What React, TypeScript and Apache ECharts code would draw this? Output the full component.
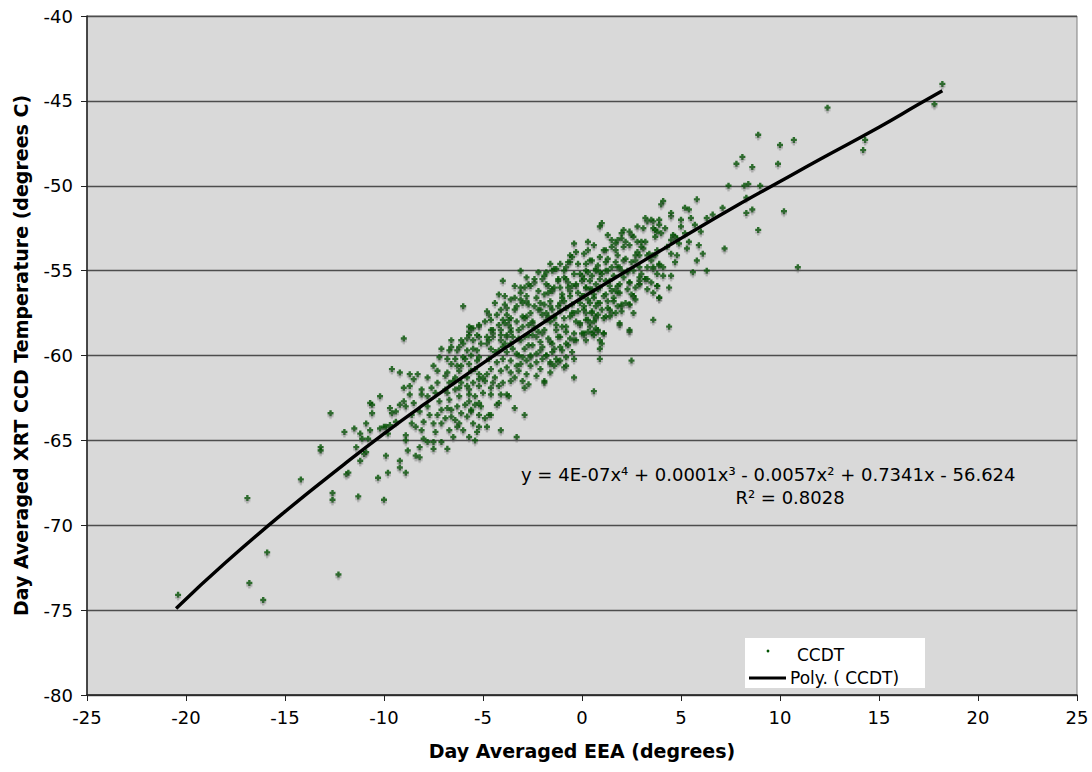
import React, { useEffect, useRef } from "react";
import * as echarts from "echarts";

// Tick settings
const xMin = -25, xMax = 25, xStep = 5;
const yMin = -80, yMax = -40, yStep = 5;

// Sparse points, left / low end
const sparseLeft: number[][] = [
  [-20.4,-74.1],[-16.9,-68.4],[-16.8,-73.4],[-16.1,-74.4],[-15.9,-71.6],[-14.2,-67.3],[-13.2,-65.4],[-13.2,-65.6],
  [-12.7,-63.4],[-12.6,-68.1],[-12.6,-68.5],[-12.3,-72.9],[-12.0,-64.5],[-11.9,-67.0],[-11.8,-66.9],[-11.5,-64.3],
  [-11.4,-65.4],[-11.3,-68.3],[-11.2,-64.6],[-11.2,-66.2],[-11.1,-64.9],[-11.0,-65.8],[-10.9,-65.7],[-10.9,-64.0],
  [-10.8,-64.9],[-10.7,-64.4],[-10.7,-62.8],[-10.6,-62.9],[-10.6,-63.4],[-10.3,-67.2],[-10.2,-62.4],[-10.2,-64.3],
  [-10.0,-68.5],[-10.0,-64.2],[-9.9,-65.9],[-9.9,-64.2],[-9.8,-64.6],[-9.8,-66.9],[-9.7,-63.1],[-9.7,-64.1],
  [-9.6,-63.4],[-9.6,-60.8],[-9.4,-63.9],[-9.4,-63.3],[-9.2,-62.9],[-9.2,-66.6],[-9.2,-66.2],[-9.2,-61.0],
  [-9.0,-59.0],[-9.0,-62.7],[-9.0,-61.9],[-8.9,-64.7],[-8.9,-65.0],[-8.9,-66.9],[-8.7,-62.3],[-8.7,-61.1],
  [-8.7,-61.8],[-8.5,-61.4],[-8.3,-61.1],[-8.9,-63.0],[-8.6,-63.5],[-8.5,-62.8],[-8.4,-64.2],[-8.2,-63.3],
  [-8.1,-62.0],[-8.0,-64.9],[-8.8,-65.6],[-8.4,-65.9],[-8.2,-66.0],[-8.6,-64.0],
];

// Lower-left part of the cloud
const cloudWest: number[][] = [
  [-7.8,-61.3],[-7.5,-60.6],[-8.1,-62.3],[-7.8,-62.4],[-7.6,-61.9],[-7.8,-63.0],[-8.0,-63.9],[-8.1,-64.4],
  [-7.8,-65.1],[-7.5,-65.1],[-7.4,-64.5],[-7.5,-64.0],[-7.1,-64.0],[-7.3,-63.5],[-7.1,-63.2],[-7.2,-60.1],
  [-7.1,-59.6],[-7.3,-60.9],[-7.3,-61.6],[-7.4,-62.2],[-7.2,-62.7],[-7.7,-63.5],[-8.2,-65.4],[-7.5,-65.5],
  [-6.8,-60.2],[-6.6,-59.1],[-6.6,-59.5],[-6.6,-60.5],[-6.3,-60.6],[-6.8,-63.1],[-6.8,-65.5],[-6.5,-64.8],
  [-7.1,-65.1],[-6.9,-61.2],[-6.7,-61.6],[-6.4,-62.0],[-6.2,-62.4],[-6.8,-62.2],[-6.3,-63.0],[-6.1,-63.4],
  [-6.6,-63.6],[-6.2,-64.0],[-6.0,-64.4],[-6.4,-61.3],[-6.1,-61.6],[-6.2,-60.9],[-6.0,-60.1],[-6.0,-57.1],
  [-6.7,-59.7],[-6.3,-59.7],[-6.2,-59.5],[-6.1,-59.1],
  [-6.0,-59.3],[-5.7,-58.6],[-5.5,-58.4],[-5.2,-58.3],[-5.7,-58.3],[-5.8,-59.0],[-5.5,-59.1],[-5.2,-58.9],
  [-5.8,-59.7],[-5.6,-60.0],[-5.3,-59.7],[-5.2,-60.1],[-5.7,-60.5],[-5.4,-60.8],[-5.2,-61.1],[-5.8,-61.3],
  [-5.5,-61.6],[-5.2,-61.8],[-5.7,-62.0],[-5.4,-62.4],[-5.7,-62.7],[-5.2,-62.8],[-5.6,-63.2],[-5.2,-63.5],
  [-5.8,-63.6],[-5.5,-64.0],[-5.2,-64.2],[-5.7,-64.8],[-5.4,-65.0],
  [-5.9,-60.2],[-5.8,-61.8],[-5.7,-62.3],[-5.6,-60.9],[-5.5,-59.6],[-5.4,-62.9],[-5.3,-60.3],[-5.2,-61.4],
  [-5.1,-59.3],[-5.0,-62.2],[-5.9,-62.9],[-5.6,-63.3],[-5.3,-64.5],[-5.1,-63.0],
  [-6.9,-62.0],[-6.8,-61.0],[-6.7,-62.6],[-6.6,-63.2],[-6.5,-61.5],[-6.4,-60.2],[-6.3,-64.2],[-6.2,-61.9],
  [-6.1,-60.6],[-6.9,-63.7],[-6.4,-63.8],[-6.7,-64.4],
];

// Centre of the cloud, upper half
const cloudUpper: number[][] = [
  [-0.4,-53.4],[-0.6,-54.1],[-0.6,-54.5],[-1.1,-54.6],[-0.8,-54.8],[-1.4,-54.9],[-3.1,-55.0],[-2.2,-55.1],
  [-1.8,-55.1],[-4.0,-55.6],[-3.4,-55.9],[-3.1,-56.0],[-2.7,-55.8],[-2.4,-55.7],[-2.0,-55.5],[-1.7,-55.9],
  [-1.5,-56.1],[-1.2,-55.5],[-0.9,-55.4],[-0.7,-55.7],[-0.4,-55.2],[-0.3,-55.9],[-4.2,-56.4],[-3.9,-56.5],
  [-3.6,-56.7],[-3.1,-56.7],[-4.4,-56.9],[-4.7,-57.6],[-4.1,-57.3],[-3.8,-57.2],[-3.3,-57.1],[-2.8,-56.8],
  [-2.3,-56.6],[-1.9,-56.4],[-1.5,-56.2],[-1.0,-56.4],[-0.6,-56.2],[-4.6,-57.9],[-4.0,-57.9],[-3.6,-57.8],
  [-2.8,-57.7],[-2.1,-57.3],[-1.6,-57.1],[-1.1,-56.9],[-5.6,-58.4],[-5.2,-58.2],[-4.6,-58.5],[-4.1,-58.5],
  [-3.6,-58.4],[-3.0,-58.3],[-2.5,-58.1],[-1.8,-57.9],[-1.4,-57.7],[-0.5,-57.5],[-5.7,-58.8],[-5.3,-58.8],
  [-4.5,-58.9],[-3.8,-58.9],[-2.7,-58.8],[-2.0,-58.7],[-1.3,-58.5],[-0.8,-58.3],
  [-4.8,-58.9],[-4.5,-58.7],[-4.1,-59.1],[-3.8,-58.8],[-3.6,-59.3],[-3.2,-59.0],[-2.9,-59.6],[-2.5,-59.4],
  [-2.3,-58.9],[-1.6,-59.2],[-1.4,-59.6],[-1.1,-58.9],[-0.8,-59.3],[-0.5,-59.8],[-0.3,-59.1],[-2.1,-59.7],
  [-1.8,-60.0],[-3.0,-60.1],[-3.3,-59.9],[-3.8,-59.8],[-4.2,-59.7],[-4.6,-59.6],[-4.0,-60.2],[-2.6,-60.1],
  [-1.3,-60.2],[-0.4,-60.2],
];

// Centre of the cloud, lower half
const cloudLower: number[][] = [
  [-5.0,-61.3],[-4.8,-61.1],[-4.6,-61.9],[-4.5,-61.6],[-4.2,-61.8],[-4.0,-61.6],[-3.8,-62.3],[-3.6,-61.5],
  [-3.4,-61.3],[-3.2,-60.9],[-3.1,-60.5],[-2.8,-61.1],[-2.6,-60.6],[-2.3,-60.4],[-2.1,-60.8],[-1.9,-61.5],
  [-1.6,-60.5],[-1.2,-60.4],[-0.9,-60.7],[-0.4,-61.3],[-2.9,-61.9],[-2.7,-61.7],[-3.0,-61.5],[-4.9,-63.7],
  [-4.7,-63.5],[-4.6,-63.5],[-4.3,-62.9],[-4.1,-62.3],[-3.7,-62.4],[-3.4,-63.1],[-2.9,-63.5],[-4.1,-64.4],
  [-3.3,-64.8],[-4.8,-64.2],
  [0.0,-58.7],[0.2,-59.1],[0.5,-58.7],[0.6,-58.6],[0.8,-58.6],[0.9,-59.1],[1.0,-59.3],[0.9,-59.6],
  [0.9,-60.2],[1.1,-58.7],[2.4,-58.6],[2.5,-60.3],[0.6,-62.1],[4.4,-58.3],
  [1.9,-58.2],[3.6,-57.9],[3.9,-56.6],[-1.9,-61.6],[-1.6,-61.0],[-0.8,-60.6],[-1.1,-60.3],[-0.8,-60.1],
  [-1.6,-60.4],[-2.0,-59.5],[-1.5,-59.8],[-1.1,-59.5],[-0.7,-59.4],[-0.4,-59.1],[0.1,-58.8],[0.4,-58.3],
  [0.7,-58.4],[-0.1,-58.2],
];

// Right-hand part of the cloud
const cloudEast: number[][] = [
  [6.3,-55.0],[5.8,-54.4],[6.1,-54.0],[5.3,-53.7],[4.8,-54.1],[4.5,-55.3],[4.1,-55.3],[3.8,-55.9],
  [6.0,-52.7],[6.3,-51.9],[6.6,-51.7],[5.2,-51.3],[5.4,-51.4],[4.0,-51.1],[4.1,-50.9],[5.8,-50.8],
  [5.0,-52.0],[5.0,-52.4],[4.6,-53.0],[4.8,-53.1],[4.5,-54.0],[3.9,-54.6],[3.7,-54.1],[3.2,-55.5],
  [2.9,-55.8],[2.6,-56.5],[2.4,-57.0],[2.0,-57.1],
  [1.0,-52.2],[0.9,-52.4],[2.1,-52.6],[2.0,-52.8],[2.5,-52.9],[3.3,-52.1],[3.6,-52.1],[3.9,-52.0],
  [3.6,-52.5],[3.7,-52.6],[3.8,-52.7],[4.0,-52.8],[4.5,-51.8],[4.5,-53.2],[4.7,-53.0],
  [1.5,-53.2],[1.8,-53.2],[2.2,-53.3],[2.4,-53.5],[2.8,-53.3],[3.0,-53.3],[3.1,-53.7],[2.8,-53.9],
  [2.9,-54.1],[2.7,-54.4],[2.5,-54.5],[2.1,-54.4],[1.7,-54.5],[1.3,-54.3],[1.2,-53.8],[1.7,-53.8],
  [0.3,-53.8],[0.4,-54.4],[0.7,-54.9],[0.8,-54.7],[0.2,-55.0],[0.0,-55.3],[0.5,-55.3],[0.9,-55.1],
  [1.2,-55.0],[1.5,-54.8],[1.8,-54.8],[2.0,-55.0],[2.3,-55.1],[2.6,-55.0],[3.0,-55.2],[3.3,-54.8],
  [3.6,-54.9],[3.9,-54.7],[3.5,-54.4],[3.3,-54.1],[3.6,-54.1],
  [0.0,-55.6],[0.2,-56.0],[0.4,-56.1],[0.7,-55.8],[0.9,-56.0],[1.2,-55.6],[1.4,-55.9],[1.7,-56.1],
  [1.9,-55.8],[2.1,-55.4],[0.1,-56.5],[0.3,-56.7],[0.6,-56.4],[0.8,-56.9],[1.1,-56.5],[1.3,-56.8],
  [1.6,-56.6],[1.8,-56.3],[2.0,-57.0],[0.1,-57.1],[0.2,-57.5],[0.5,-57.4],[0.7,-57.7],[1.0,-57.3],
  [1.3,-57.2],[1.5,-57.5],[1.8,-57.1],[2.0,-57.4],[0.2,-57.9],[0.4,-58.1],[0.7,-57.8],[1.2,-57.7],
  [1.4,-57.7],[1.9,-58.1],[0.1,-58.7],[0.3,-58.6],[0.6,-58.8],[0.8,-58.5],[1.1,-58.7],[2.4,-58.5],
  [2.6,-56.5],[2.7,-56.7],[2.9,-55.6],[3.2,-55.5],[2.9,-55.8],[3.5,-55.7],[3.8,-55.9],[3.9,-56.6],
  [3.3,-56.1],[2.4,-57.0],[2.6,-57.5],[2.3,-56.1],[2.4,-55.7],
];

// Dense core around the fitted curve
const cloudCore: number[][] = [
  [-3.9,-57.0],[-3.8,-57.6],[-3.7,-58.2],[-3.6,-58.6],[-3.9,-59.3],[-3.5,-59.6],[-3.4,-57.3],[-3.3,-58.0],
  [-3.2,-58.5],[-3.1,-59.1],[-3.0,-57.7],[-3.6,-60.3],[-3.2,-60.0],[-3.8,-60.7],[-3.4,-56.6],[-3.1,-56.3],
  [-3.7,-57.9],[-3.5,-58.9],[-3.9,-58.1],[-3.3,-60.6],[-3.6,-61.0],[-3.0,-56.9],
  [-2.9,-56.0],[-2.8,-56.5],[-2.7,-57.0],[-2.6,-57.5],[-2.5,-58.0],[-2.4,-58.4],[-2.9,-58.9],[-2.7,-59.4],
  [-2.3,-59.9],[-2.8,-60.3],[-2.2,-56.2],[-2.1,-56.9],[-2.4,-55.5],[-2.6,-55.9],[-2.0,-57.6],[-2.9,-57.8],
  [-2.5,-58.8],[-2.2,-58.6],[-2.1,-59.2],[-2.6,-60.0],[-2.3,-61.2],[-2.0,-60.2],[-2.8,-55.4],[-2.2,-57.3],
  [-2.7,-58.2],[-2.4,-57.1],
  [-1.9,-55.3],[-1.8,-55.8],[-1.7,-56.3],[-1.6,-56.8],[-1.5,-57.3],[-1.4,-57.8],[-1.3,-58.2],[-1.9,-58.5],
  [-1.7,-59.0],[-1.5,-59.3],[-1.2,-55.6],[-1.1,-56.0],[-1.0,-56.6],[-1.9,-57.0],[-1.8,-57.5],[-1.6,-58.0],
  [-1.2,-58.9],[-1.1,-57.4],[-1.4,-56.0],[-1.3,-54.9],[-1.8,-60.0],[-1.4,-60.6],[-1.0,-59.7],[-1.6,-54.6],
  [-1.2,-57.1],[-1.5,-55.0],[-1.0,-58.3],[-1.7,-57.7],
  [-0.9,-55.0],[-0.8,-55.5],[-0.7,-56.0],[-0.6,-56.5],[-0.5,-57.0],[-0.4,-57.5],[-0.3,-58.0],[-0.9,-57.8],
  [-0.8,-58.6],[-0.6,-59.0],[-0.2,-54.6],[-0.1,-55.2],[-0.3,-55.8],[-0.5,-54.2],[-0.7,-54.5],[-0.2,-56.3],
  [-0.1,-56.9],[-0.4,-58.7],[-0.9,-56.8],[-0.6,-57.7],[-0.2,-57.4],[-0.8,-57.2],[-0.1,-58.1],[-0.5,-55.9],
  [-0.3,-53.9],
  [0.1,-54.0],[0.2,-54.6],[0.3,-55.1],[0.4,-55.6],[0.5,-56.1],[0.6,-56.6],[0.7,-57.1],[0.8,-57.6],
  [0.1,-57.3],[0.3,-57.9],[0.2,-56.0],[0.5,-54.4],[0.6,-53.5],[0.7,-55.0],[0.9,-55.5],[0.8,-56.1],
  [0.4,-56.9],[0.9,-54.2],[0.1,-55.5],[0.6,-58.0],[0.0,-56.5],[0.9,-56.9],[0.3,-53.3],[0.5,-57.5],
  [1.1,-53.8],[1.2,-54.5],[1.3,-55.0],[1.4,-55.6],[1.5,-56.2],[1.6,-56.8],[1.7,-53.4],[1.8,-54.1],
  [1.9,-54.8],[1.2,-56.4],[1.4,-57.3],[1.6,-55.3],[1.8,-55.9],[1.1,-57.8],[1.3,-52.9],[1.5,-53.6],
  [1.9,-56.3],[1.0,-55.2],[1.7,-57.5],[2.0,-53.1],
  [2.1,-53.6],[2.2,-54.3],[2.3,-55.0],[2.4,-55.7],[2.6,-53.0],[2.7,-54.1],[2.8,-52.4],[2.9,-55.4],
  [2.5,-56.4],[2.2,-56.9],[2.7,-56.0],[3.0,-53.6],[2.4,-52.7],[2.9,-54.8],
  [3.1,-52.5],[3.2,-53.3],[3.4,-54.0],[3.5,-52.0],[3.6,-54.8],[3.7,-53.0],[3.8,-55.2],[3.9,-52.3],
  [3.3,-55.5],[3.6,-56.3],[3.2,-51.9],[3.8,-53.8],
  [4.2,-52.5],[4.3,-53.6],[4.5,-51.6],[4.6,-52.9],[4.7,-54.5],[4.9,-53.4],[4.4,-56.0],[4.1,-54.8],
  [5.2,-52.8],[5.4,-53.3],[5.5,-51.9],[5.7,-52.3],[5.9,-53.5],[5.6,-55.1],
  [-4.9,-58.0],[-4.8,-59.3],[-4.7,-60.2],[-4.6,-60.8],[-4.5,-58.5],[-4.4,-59.8],[-4.3,-60.4],[-4.2,-58.2],
  [-4.1,-60.9],[-4.0,-59.5],[-4.9,-61.5],[-4.6,-62.3],[-4.3,-57.6],[-4.8,-57.4],[-4.1,-58.8],[-4.4,-61.3],
  [-4.7,-59.1],[-4.2,-62.8],
];

// Sparse points, upper end
const sparseRight: number[][] = [
  [12.4,-45.4],[17.8,-45.2],[8.9,-47.0],[10.7,-47.3],[10.0,-47.6],[8.1,-48.3],[7.8,-48.7],[8.6,-48.9],
  [9.9,-48.7],[14.3,-47.3],[14.2,-47.9],[7.4,-50.0],[8.2,-50.0],[8.4,-49.9],[9.0,-50.0],[8.3,-50.7],
  [7.1,-51.3],[8.6,-51.4],[8.3,-51.6],[10.2,-51.5],[8.9,-52.6],[7.2,-53.7],[10.9,-54.8],[18.2,-44.0],
];

// Fitted 4th-order polynomial trend
const trendX = [-20.5, -18, -15, -12, -10, -8, -5, -2, 0, 2, 5, 8, 10, 12, 15, 17, 18.2];
const trendY = [-74.9, -72.2, -69.2, -66.4, -64.6, -62.9, -60.45, -58.1, -56.6, -55.2, -53.1, -51.05, -49.75, -48.45, -46.55, -45.2, -44.4];

const equationText = "y = 4E-07x\u2074 + 0.0001x\u00b3 - 0.0057x\u00b2 + 0.7341x - 56.624";
const r2Text = "R\u00b2 = 0.8028";

const FONT = "'DejaVu Sans', Verdana, sans-serif";

export default function App() {
  const ref = useRef<HTMLDivElement>(null);
  useEffect(() => {
    const chart = echarts.init(ref.current!, null, { renderer: "svg" });
    const ccdt = [
      ...sparseLeft, ...cloudWest, ...cloudUpper, ...cloudLower, ...cloudEast, ...cloudCore, ...sparseRight,
    ];
    const trend = trendX.map((x, i) => [x, trendY[i]]);
    chart.setOption({
      animation: false,
      backgroundColor: "#ffffff",
      textStyle: { fontFamily: FONT },
      grid: {
        left: 87, right: 15, top: 16, bottom: 77,
        show: true, backgroundColor: "#d9d9d9", borderColor: "#7f7f7f", borderWidth: 1,
      },
      xAxis: {
        type: "value", min: xMin, max: xMax, interval: xStep,
        name: "Day Averaged EEA (degrees)", nameLocation: "middle", nameGap: 46,
        nameTextStyle: { fontSize: 19, fontWeight: "bold", color: "#000", fontFamily: FONT },
        axisLine: { show: true, onZero: false, lineStyle: { color: "#222", width: 1.5 } },
        axisTick: { show: true, inside: false, length: 6, lineStyle: { color: "#222" } },
        axisLabel: { fontSize: 18, color: "#000", margin: 13, fontFamily: FONT },
        splitLine: { show: false },
      },
      yAxis: {
        type: "value", min: yMin, max: yMax, interval: yStep,
        name: "Day Averaged XRT CCD Temperature (degrees C)", nameLocation: "middle", nameGap: 57,
        nameTextStyle: { fontSize: 19, fontWeight: "bold", color: "#000", fontFamily: FONT },
        axisLine: { show: true, onZero: false, lineStyle: { color: "#222", width: 1.5 } },
        axisTick: { show: true, inside: false, length: 6, lineStyle: { color: "#222" } },
        axisLabel: { fontSize: 18, color: "#000", margin: 14, fontFamily: FONT },
        splitLine: { show: true, lineStyle: { color: "#4d4d4d", width: 1.3 } },
      },
      series: [
        {
          name: "CCDT", type: "scatter", data: ccdt,
          symbol: "path://M1.5,0 L3.5,0 L3.5,1.5 L5,1.5 L5,3.5 L3.5,3.5 L3.5,5 L1.5,5 L1.5,3.5 L0,3.5 L0,1.5 L1.5,1.5 Z",
          symbolSize: 6,
          itemStyle: {
            color: "#005200",
            shadowColor: "rgba(90,90,90,0.45)", shadowBlur: 1, shadowOffsetY: 2.5,
          },
          silent: true, z: 2,
        },
        {
          name: "Poly. ( CCDT)", type: "line", data: trend, smooth: true, symbol: "none",
          lineStyle: { color: "#000", width: 3.4 }, z: 3, silent: true,
        },
      ],
      graphic: [
        {
          type: "text", x: 521, y: 474,
          style: { text: equationText, font: `18px ${FONT}`, fill: "#000", textVerticalAlign: "middle" },
        },
        {
          type: "text", x: 790, y: 497,
          style: { text: r2Text, font: `18px ${FONT}`, fill: "#000", textAlign: "center", textVerticalAlign: "middle" },
        },
        { type: "rect", shape: { x: 745, y: 638, width: 180, height: 50 }, style: { fill: "#ffffff" } },
        { type: "circle", shape: { cx: 768, cy: 651, r: 1.4 }, style: { fill: "#005200" } },
        {
          type: "text", x: 797, y: 655,
          style: { text: "CCDT", font: `17px ${FONT}`, fill: "#000", textVerticalAlign: "middle" },
        },
        { type: "line", shape: { x1: 749, y1: 678, x2: 786, y2: 678 }, style: { stroke: "#000", lineWidth: 3 } },
        {
          type: "text", x: 790, y: 678,
          style: { text: "Poly. ( CCDT)", font: `17px ${FONT}`, fill: "#000", textVerticalAlign: "middle" },
        },
      ],
    });
    return () => chart.dispose();
  }, []);
  return (
    <div
      ref={ref}
      style={{ position: "absolute", left: 0, top: 0, width: 1092, height: 772, background: "#fff" }}
    />
  );
}
